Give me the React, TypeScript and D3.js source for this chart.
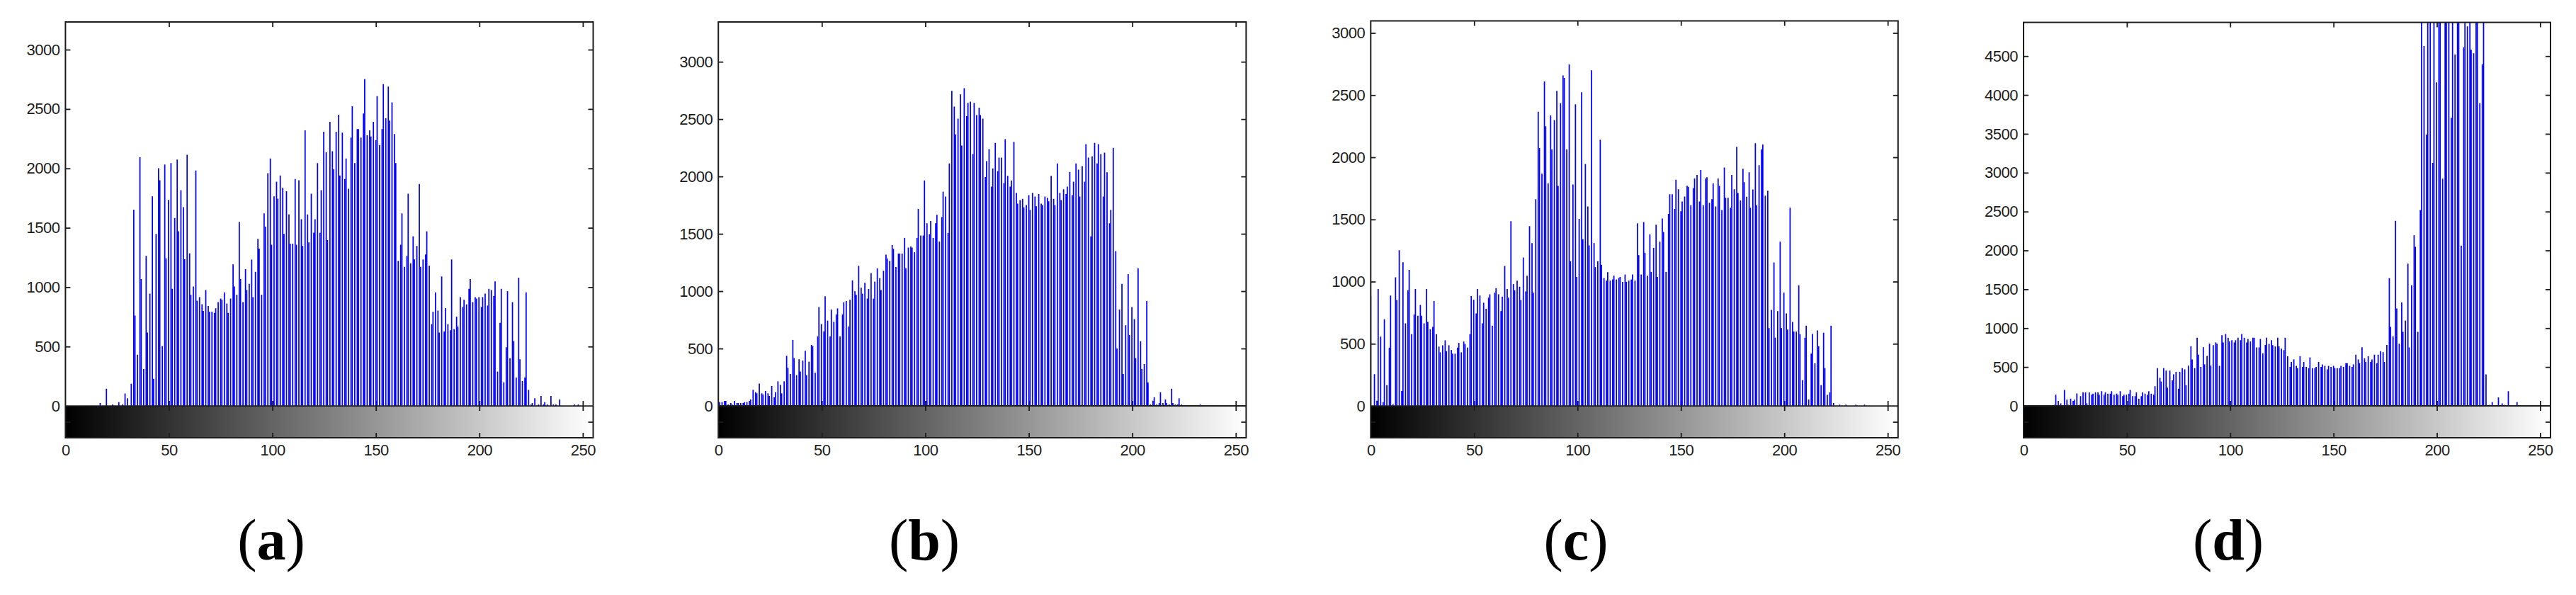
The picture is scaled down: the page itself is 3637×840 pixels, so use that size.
import { useRef, useEffect } from "react";
import * as d3 from "d3";

const captions = ["a", "b", "c", "d"];
const xTicks = [0, 50, 100, 150, 200, 250];
const yTicksA = [0, 500, 1000, 1500, 2000, 2500, 3000];
const yTicksD = [0, 500, 1000, 1500, 2000, 2500, 3000, 3500, 4000, 4500];

// counts per grey level 0..255, ten values a row
const histA = [
  0, 0, 0, 0, 0, 0, 0, 0, 0, 0,
  0, 0, 0, 0, 0, 0, 0, 24, 0, 0,
  145, 0, 0, 12, 0, 0, 32, 0, 12, 105,
  64, 0, 187, 1653, 761, 432, 2094, 1068, 311, 1263,
  617, 946, 1765, 229, 1448, 2002, 1900, 504, 2032, 1243,
  1735, 2044, 986, 1582, 2074, 1470, 1817, 1673, 1235, 2115,
  1285, 936, 1006, 1982, 886, 916, 856, 800, 976, 842,
  793, 793, 783, 822, 874, 904, 894, 956, 862, 783,
  904, 1191, 1006, 936, 1550, 1068, 874, 1151, 976, 1028,
  1233, 916, 1129, 1406, 1325, 936, 1621, 1510, 1960, 2084,
  1357, 1765, 1888, 1745, 1940, 1837, 1448, 1807, 1612, 1366,
  1366, 1910, 1357, 1900, 1572, 1347, 2320, 1612, 1376, 1787,
  1458, 1572, 2044, 1458, 1817, 2309, 2135, 1396, 2392, 2145,
  1992, 2309, 2452, 1940, 2301, 1910, 2084, 1829, 2259, 2524,
  2044, 2331, 2331, 2259, 2462, 2751, 2279, 2320, 2269, 2392,
  2237, 2608, 2197, 2331, 2709, 2422, 2689, 2402, 2556, 2289,
  2044, 1221, 1357, 1621, 1171, 1263, 1787, 1201, 1428, 1233,
  1347, 1869, 1171, 1233, 1275, 1470, 1181, 689, 793, 956,
  803, 617, 1090, 627, 823, 689, 637, 1233, 647, 751,
  669, 916, 833, 894, 855, 986, 1068, 874, 916, 904,
  916, 833, 916, 946, 845, 986, 976, 926, 1048, 289,
  699, 986, 199, 494, 966, 402, 874, 546, 239, 1080,
  392, 209, 239, 956, 135, 12, 24, 64, 0, 12,
  84, 12, 32, 12, 0, 84, 12, 12, 0, 54,
  0, 0, 0, 0, 0, 0, 12, 0, 12, 0,
  0, 0, 0, 0, 0, 0,
];

const histB = [
  33, 33, 33, 43, 43, 12, 25, 12, 43, 25,
  25, 25, 25, 33, 33, 43, 56, 140, 119, 109,
  194, 109, 99, 130, 109, 86, 173, 76, 119, 214,
  183, 109, 214, 437, 332, 278, 575, 416, 268, 406,
  299, 395, 480, 268, 385, 531, 521, 288, 605, 861,
  713, 649, 956, 743, 605, 840, 733, 797, 850, 605,
  797, 904, 914, 692, 925, 1094, 999, 968, 1221, 1030,
  978, 1073, 935, 1019, 1157, 935, 1083, 1199, 1114, 1009,
  1178, 1318, 1285, 1264, 1402, 1369, 1211, 1328, 1328, 1328,
  1464, 1199, 1380, 1390, 1380, 1339, 1464, 1717, 1485, 1485,
  1965, 1592, 1497, 1612, 1464, 1592, 1666, 1433, 1645, 1868,
  1825, 1507, 2113, 2747, 2609, 2366, 2504, 2716, 2269, 2770,
  2525, 2642, 2653, 2195, 2642, 2535, 2599, 2535, 2504, 1995,
  2133, 2238, 1911, 2070, 2292, 2047, 2164, 2164, 1942, 2325,
  2006, 1911, 1965, 2302, 1857, 1763, 1794, 1804, 1730, 1750,
  1837, 1709, 1857, 1825, 1740, 1847, 1763, 1750, 1825, 1814,
  1783, 2006, 1804, 1750, 2113, 1857, 1794, 1888, 1847, 1911,
  2039, 1837, 1954, 2113, 2059, 1825, 2090, 1954, 2282, 2164,
  1477, 2175, 2292, 2113, 2282, 2195, 1825, 2208, 2037, 1592,
  1709, 2249, 1349, 500, 840, 1063, 278, 702, 1149, 618,
  861, 756, 416, 1199, 564, 321, 364, 914, 204, 12,
  45, 76, 12, 25, 119, 25, 56, 25, 12, 150,
  25, 12, 12, 66, 12, 0, 0, 0, 0, 0,
  0, 0, 0, 12, 0, 0, 0, 0, 0, 0,
  0, 0, 0, 0, 0, 0, 0, 0, 0, 0,
  0, 0, 0, 0, 0, 0,
];

const histC = [
  883, 0, 256, 42, 940, 558, 30, 697, 167, 469,
  888, 13, 1035, 852, 1253, 120, 1156, 664, 930, 1095,
  577, 735, 940, 725, 812, 725, 664, 940, 676, 617,
  636, 843, 577, 478, 431, 488, 528, 440, 488, 450,
  420, 420, 469, 507, 431, 518, 497, 469, 577, 883,
  854, 744, 940, 888, 664, 830, 782, 871, 898, 645,
  911, 947, 898, 763, 879, 1126, 940, 871, 1486, 980,
  930, 1008, 959, 852, 1194, 921, 1048, 1446, 1310, 911,
  1663, 2367, 2075, 1868, 2610, 2249, 1790, 2337, 2063, 2299,
  2534, 1769, 2435, 2659, 2639, 2063, 2747, 1164, 1781, 2426,
  1038, 1505, 2523, 1340, 1946, 1604, 1291, 2699, 1310, 1116,
  1164, 2141, 1135, 1029, 1008, 1076, 1008, 1017, 1048, 1017,
  1029, 1038, 998, 1057, 998, 1008, 1017, 1057, 1008, 1469,
  1213, 1057, 1479, 1232, 1048, 1380, 1078, 1272, 1458, 1038,
  1321, 1507, 1399, 1078, 1545, 1703, 1703, 1585, 1819, 1743,
  1566, 1644, 1684, 1771, 1762, 1614, 1752, 1830, 1858, 1644,
  1898, 1614, 1830, 1839, 1634, 1663, 1790, 1604, 1830, 1771,
  1576, 1917, 1674, 1674, 1594, 1858, 1743, 2084, 1712, 1653,
  1908, 1800, 1682, 1879, 1594, 1741, 2113, 1614, 1936, 2063,
  2103, 1691, 1731, 626, 773, 1154, 549, 763, 1321, 626,
  911, 744, 615, 1594, 676, 598, 598, 970, 577, 207,
  549, 645, 51, 421, 579, 342, 607, 480, 167, 588,
  304, 89, 108, 645, 23, 0, 0, 11, 0, 0,
  11, 0, 0, 0, 0, 11, 0, 0, 0, 11,
  0, 0, 0, 0, 0, 0, 0, 0, 0, 0,
  0, 0, 0, 0, 0, 0,
];

const histD = [
  0, 0, 0, 0, 0, 0, 0, 0, 0, 0,
  0, 0, 0, 0, 0, 13, 144, 64, 32, 0,
  205, 80, 13, 93, 64, 80, 160, 13, 125, 173,
  173, 32, 173, 144, 157, 173, 173, 144, 189, 144,
  173, 157, 157, 189, 144, 157, 144, 189, 125, 144,
  144, 157, 205, 125, 125, 173, 93, 125, 173, 157,
  144, 189, 157, 144, 253, 486, 361, 313, 486, 454,
  234, 454, 329, 406, 438, 221, 438, 486, 470, 266,
  518, 768, 598, 486, 877, 659, 502, 755, 534, 643,
  800, 518, 781, 816, 800, 515, 909, 816, 925, 877,
  829, 845, 816, 845, 877, 845, 925, 877, 816, 861,
  829, 877, 877, 752, 752, 861, 675, 784, 877, 797,
  845, 781, 765, 877, 765, 736, 717, 877, 637, 502,
  566, 598, 515, 486, 640, 502, 566, 502, 486, 624,
  486, 486, 502, 566, 502, 534, 515, 470, 515, 502,
  515, 486, 486, 486, 515, 502, 550, 550, 515, 502,
  534, 659, 598, 550, 755, 611, 566, 640, 566, 598,
  659, 550, 659, 704, 691, 566, 784, 1644, 1017, 893,
  2380, 1254, 800, 1331, 953, 1097, 1830, 752, 1551, 2195,
  2047, 953, 2521, 5000, 4629, 3490, 5000, 5000, 3125, 5000,
  4162, 5000, 5000, 2924, 5000, 5000, 5000, 3708, 5000, 4520,
  5000, 5000, 2063, 4613, 5000, 4882, 5000, 4581, 4536, 5000,
  5000, 3893, 4395, 5000, 406, 0, 13, 48, 0, 0,
  109, 0, 32, 13, 0, 189, 0, 0, 0, 48,
  0, 0, 0, 0, 0, 0, 0, 0, 0, 0,
  0, 0, 0, 0, 0, 0,
];

const histograms = [histA, histB, histC, histD];
const yTickSets = [yTicksA, yTicksA, yTicksA, yTicksD];
const yDomains = [
  [-268, 3233],
  [-278, 3347],
  [-256, 3097],
  [-410, 4934],
];

// layout of the four panels, in page pixels
const lefts = [92.4, 1014.2, 1935.3, 2857];
const rights = [837.5, 1759.4, 2679.8, 3601];
const tops = [31, 31, 29.5, 31.6];
const captionX = [383, 1305, 2225, 3146];
const bottom = 618;
const tickLen = 7;
const ink = "#1c1c1c";
const sans = "'Liberation Sans', Arial, sans-serif";
// the source bitmap fits 5 of its pixels into 3 grey levels, stems snap to that grid
const sourcePixels = 425;

export default function App() {
  const svgRef = useRef<SVGSVGElement>(null);

  useEffect(() => {
    if (!svgRef.current) return;
    const svg = d3.select(svgRef.current);
    svg.selectAll("*").remove();

    svg.append("rect").attr("width", 3637).attr("height", 840).attr("fill", "#fff");

    const defs = svg.append("defs");
    const grad = defs.append("linearGradient").attr("id", "greyRamp");
    grad.append("stop").attr("offset", "0%").attr("stop-color", "#000");
    grad.append("stop").attr("offset", "100%").attr("stop-color", "#fff");

    histograms.forEach((counts, p) => {
      const left = lefts[p];
      const right = rights[p];
      const top = tops[p];
      const x = d3.scaleLinear().domain([0, 255]).range([left, right]);
      const y = d3.scaleLinear().domain(yDomains[p]).range([bottom, top]);
      const zero = y(0);
      const srcPx = (right - left) / sourcePixels;
      const snap = (level: number) =>
        left + Math.floor((x(level) - left) / srcPx + 1e-6) * srcPx;
      const g = svg.append("g");
      const xInner = xTicks.slice(1);
      const yInner = yTickSets[p].slice(1);

      defs
        .append("clipPath")
        .attr("id", `plot${p}`)
        .append("rect")
        .attr("x", left)
        .attr("y", top)
        .attr("width", right - left)
        .attr("height", bottom - top);

      // Grey ramp under the histogram
      g.append("rect")
        .attr("x", left)
        .attr("y", zero)
        .attr("width", right - left)
        .attr("height", bottom - zero)
        .attr("fill", "url(#greyRamp)");

      const styleTicks = (sel: any) => {
        sel.select(".domain").remove();
        sel.selectAll(".tick line").attr("stroke", ink).attr("stroke-width", 1.8);
        sel.selectAll(".tick text").remove();
      };

      // x ticks on the zero line, the stems cover most of them
      g.append("g")
        .attr("transform", `translate(0,${zero})`)
        .call(d3.axisBottom(x).tickValues(xInner).tickSize(-tickLen))
        .call(styleTicks);

      // Stems
      g.append("g")
        .attr("clip-path", `url(#plot${p})`)
        .selectAll("line")
        .data(counts.map((count, level) => ({ count, level })).filter((d) => d.count > 0))
        .enter()
        .append("line")
        .attr("x1", (d) => snap(d.level))
        .attr("x2", (d) => snap(d.level))
        .attr("y1", zero)
        .attr("y2", (d) => y(d.count))
        .attr("stroke", "#0000ff")
        .attr("stroke-width", srcPx);

      // Zero line and frame
      g.append("line")
        .attr("x1", left)
        .attr("x2", right)
        .attr("y1", zero)
        .attr("y2", zero)
        .attr("stroke", ink)
        .attr("stroke-width", 1.8);
      g.append("rect")
        .attr("x", left)
        .attr("y", top)
        .attr("width", right - left)
        .attr("height", bottom - top)
        .attr("fill", "none")
        .attr("stroke", ink)
        .attr("stroke-width", 2);

      // Inward ticks on every side
      g.append("g")
        .attr("transform", `translate(0,${top})`)
        .call(d3.axisTop(x).tickValues(xInner).tickSize(-tickLen))
        .call(styleTicks);
      g.append("g")
        .attr("transform", `translate(0,${zero})`)
        .call(d3.axisTop(x).tickValues(xInner).tickSize(-tickLen))
        .call(styleTicks);
      g.append("g")
        .attr("transform", `translate(0,${bottom})`)
        .call(d3.axisBottom(x).tickValues(xInner).tickSize(-tickLen))
        .call(styleTicks);
      const yMarks = [...yInner, yDomains[p][0] / 2];
      g.append("g")
        .attr("transform", `translate(${left},0)`)
        .call(d3.axisLeft(y).tickValues(yMarks).tickSize(-tickLen))
        .call(styleTicks);
      g.append("g")
        .attr("transform", `translate(${right},0)`)
        .call(d3.axisRight(y).tickValues(yMarks).tickSize(-tickLen))
        .call(styleTicks);

      // Tick labels
      const styleLabels = (sel: any) => {
        sel.select(".domain").remove();
        sel.selectAll(".tick line").remove();
        sel
          .selectAll(".tick text")
          .attr("fill", ink)
          .attr("font-family", sans)
          .attr("font-size", 22)
          .attr("letter-spacing", "-0.5px");
      };
      g.append("g")
        .attr("transform", `translate(0,${bottom})`)
        .call(d3.axisBottom(x).tickValues(xTicks).tickSize(0).tickPadding(9).tickFormat(d3.format("d")))
        .call(styleLabels);
      g.append("g")
        .attr("transform", `translate(${left},0)`)
        .call(d3.axisLeft(y).tickValues(yTickSets[p]).tickSize(0).tickPadding(8).tickFormat(d3.format("d")))
        .call(styleLabels);

      // Caption, the letter alone is bold
      const caption = g
        .append("text")
        .attr("x", captionX[p])
        .attr("y", 790)
        .attr("text-anchor", "middle")
        .attr("font-family", "'Liberation Serif', serif")
        .attr("font-size", 82)
        .attr("fill", "#000");
      caption.append("tspan").text("(");
      caption.append("tspan").attr("font-weight", "bold").text(captions[p]);
      caption.append("tspan").text(")");
    });
  }, []);

  return (
    <svg
      ref={svgRef}
      width={3637}
      height={840}
      style={{ position: "absolute", left: 0, top: 0, display: "block" }}
    />
  );
}
